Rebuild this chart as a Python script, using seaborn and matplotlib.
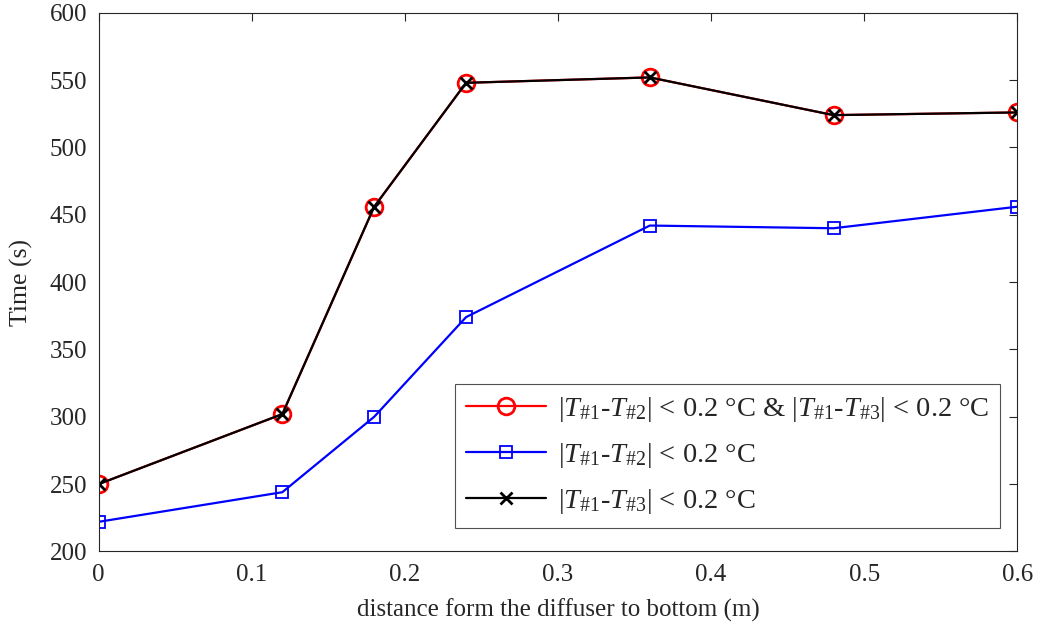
import matplotlib
matplotlib.use("Agg")
import matplotlib.pyplot as plt
import seaborn as sns
import pandas as pd

distance = [0, 0.12, 0.18, 0.24, 0.36, 0.48, 0.6]
both = [250, 302, 456, 548, 552, 524, 526]
t12 = [222, 244, 300, 374, 442, 440, 456]
t13 = [250, 302, 456, 548, 552, 524, 526]

labels = [
    r'$|T_{\mathit{\#1}}$-$T_{\mathit{\#2}}|$ < 0.2 °C & $|T_{\mathit{\#1}}$-$T_{\mathit{\#3}}|$ < 0.2 °C',
    r'$|T_{\mathit{\#1}}$-$T_{\mathit{\#2}}|$ < 0.2 °C',
    r'$|T_{\mathit{\#1}}$-$T_{\mathit{\#3}}|$ < 0.2 °C',
]

sns.set_theme(style="white")
plt.rcParams['font.family'] = ['Liberation Serif', 'DejaVu Serif']
plt.rcParams['mathtext.fontset'] = 'custom'
plt.rcParams['mathtext.rm'] = 'Liberation Serif'
plt.rcParams['mathtext.it'] = 'Liberation Serif:italic'
plt.rcParams['mathtext.bf'] = 'Liberation Serif:bold'

fig, ax = plt.subplots(figsize=(10.38, 6.39), dpi=100)
fig.subplots_adjust(left=0.095, right=0.98, top=0.98, bottom=0.137)

df = pd.DataFrame({"d": distance, "both": both, "t12": t12, "t13": t13})

sns.lineplot(data=df, x="d", y="both", ax=ax, color="#ff0000", lw=1.6,
             marker="o", markersize=12, markerfacecolor="none",
             markeredgecolor="#ff0000", markeredgewidth=2, label=labels[0])
sns.lineplot(data=df, x="d", y="t12", ax=ax, color="#0000ff", lw=1.6,
             marker="s", markersize=9, markerfacecolor="none",
             markeredgecolor="#0000ff", markeredgewidth=1.3, label=labels[1])
sns.lineplot(data=df, x="d", y="t13", ax=ax, color="black", lw=1.6,
             marker="x", markersize=8, markeredgecolor="black",
             markeredgewidth=2, label=labels[2])

ax.set_xlim(0, 0.6)
ax.set_ylim(200, 600)
ax.set_xticks([0, 0.1, 0.2, 0.3, 0.4, 0.5, 0.6])
ax.set_xticklabels(["0", "0.1", "0.2", "0.3", "0.4", "0.5", "0.6"])
ax.set_yticks(range(200, 601, 50))
ax.tick_params(direction="in", length=6, width=0.8, top=True, right=True,
               labelsize=18, colors="#262626")
ax.tick_params(axis="x", pad=9)
ax.tick_params(axis="y", pad=8)
for s in ax.spines.values():
    s.set_color("#262626")
    s.set_linewidth(0.8)
ax.set_xlabel("distance form the diffuser to bottom (m)", fontsize=18,
              color="#262626", labelpad=9)
ax.set_ylabel("Time (s)", fontsize=18.5, color="#262626", labelpad=12)

leg = ax.legend(loc="lower right", fontsize=20.5, frameon=True, fancybox=False,
                edgecolor="#262626", handlelength=2.8, handletextpad=0.4,
                borderpad=0.4, labelspacing=0.6, borderaxespad=0,
                bbox_to_anchor=(0.9815, 0.044))
leg.get_frame().set_linewidth(0.8)

fig.savefig("out.png", dpi=100)
